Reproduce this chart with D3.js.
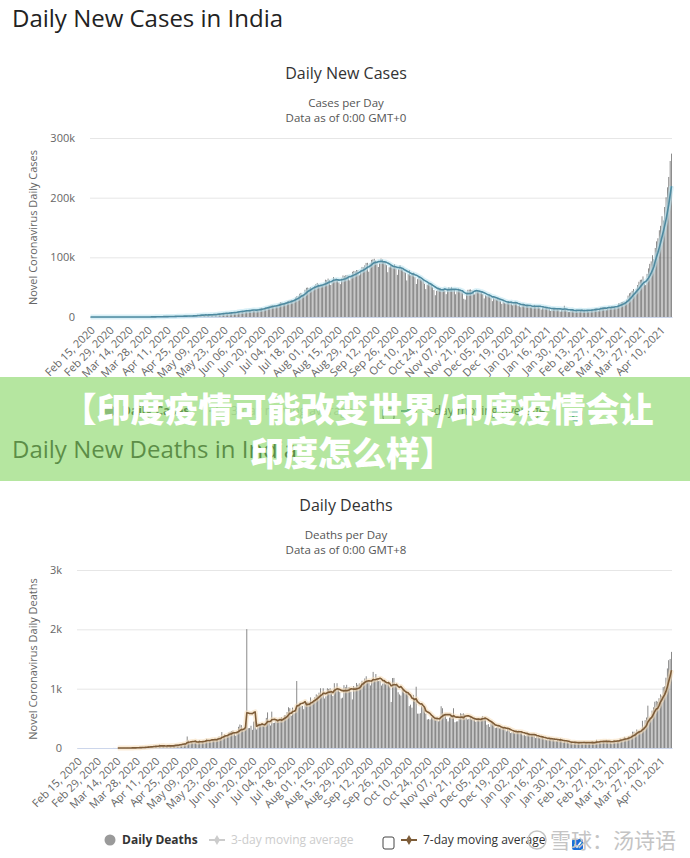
<!DOCTYPE html>
<html><head><meta charset="utf-8">
<script src="https://cdn.jsdelivr.net/npm/d3@7"></script>
<style>
html,body{margin:0;padding:0;background:#fff;}
svg{display:block;font-family:"Open Sans","DejaVu Sans",sans-serif;}
</style></head>
<body>
<script>
// ---------- DATA ----------
const tickLabels = ["Feb 15, 2020","Feb 29, 2020","Mar 14, 2020","Mar 28, 2020","Apr 11, 2020","Apr 25, 2020","May 09, 2020","May 23, 2020","Jun 06, 2020","Jun 20, 2020","Jul 04, 2020","Jul 18, 2020","Aug 01, 2020","Aug 15, 2020","Aug 29, 2020","Sep 12, 2020","Sep 26, 2020","Oct 10, 2020","Oct 24, 2020","Nov 07, 2020","Nov 21, 2020","Dec 05, 2020","Dec 19, 2020","Jan 02, 2021","Jan 16, 2021","Jan 30, 2021","Feb 13, 2021","Feb 27, 2021","Mar 13, 2021","Mar 27, 2021","Apr 10, 2021"];
const firstDay = "2020-02-15";
const lastDay = "2021-04-18";

// Daily new cases (Feb 15, 2020 - Apr 18, 2021)
const dailyCases = [
0,0,0,0,0,0,0,0,0,0,0,0,0,0,0,0,
2,1,22,2,1,3,5,9,15,8,10,10,20,3,14,15,28,28,58,77,67,102,86,63,80,146,93,153,227,146,
437,235,478,525,505,489,573,565,813,871,854,758,1243,1031,886,1061,922,1371,1580,1239,1537,1292,1667,1408,1835,1607,1568,1902,1705,1801,
2396,2564,2952,3656,2971,3602,3344,3339,3175,4311,3592,3562,3726,3991,3808,4794,5049,4630,6147,5611,5609,6088,6654,6767,6977,6535,6387,7466,7964,8380,8392,
8171,9304,9851,9887,9971,9987,9983,10956,11929,10882,11502,11929,12881,11458,10667,10974,12881,13586,14516,15413,14821,14933,15968,16922,17296,18552,19906,19459,18522,18653,
19148,20903,22771,24850,24248,22252,22752,24879,26506,27114,28637,28701,28498,29429,32695,34956,34884,38902,40425,37148,37724,45720,48916,49310,48661,49931,47703,48513,52123,55079,57118,
54735,52972,52050,52509,56282,62538,61537,64399,62064,53601,60963,66999,64553,65002,63490,57981,55079,64531,69652,68898,69878,70488,69239,61408,67151,75760,77266,76472,78761,78512,69921,
78357,83883,83341,86432,90632,90802,75809,89706,95735,96551,97570,94372,92071,83809,90123,97894,96424,93337,92605,86961,75083,83347,86508,86052,85362,88600,82170,70589,80472,86821,
81484,79476,75829,74442,61267,72049,78524,70496,73272,74383,66732,55342,63509,67708,63371,62212,61871,55722,46790,54044,56480,55839,53370,50129,45149,36469,43893,49881,48648,48268,46963,
46964,45231,38310,46253,50210,47638,50357,45674,45903,38073,44281,47905,44879,44684,41100,30548,29163,38617,45576,45882,46232,45209,44059,37975,44376,44489,43082,41322,41810,38772,
31118,36604,35551,36595,36652,32981,26567,32080,31521,29398,30006,30254,27071,22065,26382,24010,22890,25152,26624,25153,24337,19556,23950,24712,23068,18732,20021,16432,20549,21822,20036,
19079,18177,18177,16504,16375,18088,20346,18139,18222,18645,16311,12584,15968,16946,15590,15158,15144,13788,10064,13823,15223,14545,14256,14849,13203,9102,12689,11666,18855,13083,11629,
8635,8635,11039,12899,12408,11713,11831,9110,9110,11067,12923,9309,12143,11831,11649,9121,11610,12881,13193,13993,14264,14199,10584,13742,16738,16577,16488,16752,
12286,14989,17407,16838,18327,18711,18599,15388,17921,22854,23285,24882,25320,26291,24492,28903,35871,39726,40953,43846,46951,40715,47262,53476,59118,62258,62714,68020,56211,53480,72330,
81466,89129,93249,103558,96982,115736,126789,131968,145384,152879,168912,161736,184372,200739,217353,234692,261500,273810
];

// Daily deaths (null = not yet reported)
const dailyDeaths = [
null,null,null,null,null,null,null,null,null,null,null,null,null,null,null,null,null,null,null,null,null,null,null,
0,0,0,1,1,0,0,0,1,0,1,1,0,3,2,1,1,6,3,4,6,7,15,
3,20,12,16,10,29,25,24,31,33,37,35,27,58,28,38,33,26,31,36,53,36,41,32,51,58,62,62,70,68,
75,83,68,194,126,89,103,96,98,111,81,121,134,100,103,120,134,155,134,132,140,148,137,147,146,170,194,175,269,193,230,
204,221,259,273,286,294,261,206,266,357,396,386,311,325,380,2003,334,336,375,306,445,465,312,418,410,384,410,380,417,507,
600,434,379,613,421,425,467,482,487,475,519,500,551,553,606,687,671,543,681,587,648,1129,740,757,705,708,654,775,768,779,764,
853,771,803,857,904,886,933,1007,871,1007,834,871,1007,995,1007,941,876,1092,977,1092,983,944,836,848,1059,1023,1065,1021,1021,948,819,
1045,1026,1096,1066,1089,1065,1133,1115,1172,1209,1114,1114,1054,1136,1283,1132,1247,1174,1130,1133,1053,1085,1129,1085,1089,1124,1039,776,1179,1181,
1069,1095,940,903,884,986,971,926,964,918,706,730,680,895,837,1033,579,579,587,717,690,650,578,480,488,480,517,551,490,470,496,
449,490,704,670,577,559,490,448,512,585,547,670,435,447,449,501,585,576,584,562,511,480,488,524,485,492,496,443,482,501,
482,512,540,524,482,391,402,355,442,412,391,336,346,355,333,338,347,341,341,279,333,300,251,264,279,251,282,286,299,252,251,
214,224,201,264,234,222,226,222,214,167,201,185,175,191,181,162,145,137,162,164,151,163,138,127,123,137,123,163,127,94,107,
107,107,94,95,84,78,107,94,97,84,94,90,78,112,101,80,100,88,78,100,88,104,138,113,106,113,106,110,
98,138,108,113,100,77,133,133,131,131,130,161,131,158,188,172,154,197,199,212,275,275,257,312,291,291,271,459,354,469,514,
714,513,478,630,685,780,794,780,839,904,879,1027,1038,1185,1341,1480,1501,1620
];

const casesTicks = [0,100000,200000,300000];
const casesTickLabels = ["0","100k","200k","300k"];
const deathsTicks = [0,1000,2000,3000];
const deathsTickLabels = ["0","1k","2k","3k"];

// ---------- DRAW ----------
const svg = d3.select("body").append("svg").attr("width",690).attr("height",858);
svg.append("rect").attr("width",690).attr("height",858).attr("fill","#fff");

const days = d3.timeDay.range(d3.timeParse("%Y-%m-%d")(firstDay), d3.timeDay.offset(d3.timeParse("%Y-%m-%d")(lastDay),1));

function movingAvg(vals, k){
  return vals.map((v,i)=>{
    const w = vals.slice(Math.max(0,i-k+1), i+1);
    if (w.some(d=>d==null)) return null;
    return d3.mean(w);
  });
}

function chart(c){
  const g = svg.append("g");
  const n = c.values.length;
  const x = d3.scaleBand().domain(d3.range(n)).range([c.left, c.right]).paddingInner(0.45).paddingOuter(0.1);
  const y = d3.scaleLinear().domain([0, c.yMax]).range([c.bottom, c.top]);
  const bw = x.bandwidth();

  // page title
  g.append("text").attr("x",12).attr("y",c.pageTitleY).attr("font-size",24).attr("fill","#222")
    .attr("font-family","'Open Sans',sans-serif").text(c.pageTitle);
  // chart titles
  g.append("text").attr("x",346).attr("y",c.titleY).attr("text-anchor","middle").attr("font-size",16).attr("fill","#333").text(c.title);
  g.append("text").attr("x",346).attr("y",c.titleY+28).attr("text-anchor","middle").attr("font-size",11.5).attr("fill","#555").text(c.sub1);
  g.append("text").attr("x",346).attr("y",c.titleY+43).attr("text-anchor","middle").attr("font-size",11.5).attr("fill","#555").text(c.sub2);

  // y axis / gridlines
  const ya = g.append("g").attr("transform",`translate(${c.left},0)`)
    .call(d3.axisLeft(y).tickValues(c.ticks).tickSize(-(c.right-c.left)).tickPadding(15)
      .tickFormat((d,i)=>c.tickLabels[i]));
  ya.select(".domain").remove();
  ya.selectAll(".tick line").attr("stroke","#e6e6e6");
  ya.selectAll(".tick text").attr("fill","#666").attr("font-size",11).attr("font-family","'Open Sans',sans-serif");

  // y title
  g.append("text").attr("transform",`translate(${c.yTitleX},${(c.top+c.bottom)/2}) rotate(-90)`)
    .attr("text-anchor","middle").attr("font-size",11).attr("fill","#666").text(c.yTitle);

  // x axis
  const xa = g.append("g").attr("transform",`translate(0,${c.bottom})`)
    .call(d3.axisBottom(x).tickValues(tickLabels.map((_,i)=>i*14)).tickSize(0)
      .tickFormat((d,i)=>tickLabels[i]));
  xa.select(".domain").attr("stroke","#ccd6eb");
  xa.selectAll(".tick text").attr("y",0).attr("x",0).attr("dy","0")
    .attr("text-anchor","end").attr("transform","translate(5,14) rotate(-45)")
    .attr("font-size",11).attr("fill","#666").attr("font-family","'Open Sans',sans-serif");

  // bars
  g.append("g").selectAll("rect").data(c.values.map((v,i)=>({i,v}))).join("rect")
    .filter(d=>d.v!=null && d.v>0)
    .attr("x",d=>x(d.i)).attr("width",bw)
    .attr("y",d=>y(d.v)).attr("height",d=>c.bottom-y(d.v))
    .attr("fill","#666");

  // moving average
  const ma = movingAvg(c.values, 7).map((v,i)=>({i,v}));
  const line = d3.line().defined(d=>d.v!=null).x(d=>x(d.i)+bw/2).y(d=>y(d.v));
  g.append("path").attr("d",line(ma)).attr("fill","none").attr("stroke",c.halo).attr("stroke-width",5).attr("stroke-opacity",0.55).attr("stroke-linejoin","round");
  g.append("path").attr("d",line(ma)).attr("fill","none").attr("stroke",c.lineColor).attr("stroke-width",1.6).attr("stroke-linejoin","round");

  // legend
  const ly = c.legendY;
  const L = g.append("g").attr("font-family","'Open Sans',sans-serif");
  L.append("circle").attr("cx",110).attr("cy",ly).attr("r",5.5).attr("fill","#9a9a9a");
  L.append("text").attr("x",122).attr("y",ly+4).attr("font-size",12).attr("font-weight","bold").attr("fill","#333").text(c.legend1);
  L.append("line").attr("x1",209).attr("x2",225).attr("y1",ly).attr("y2",ly).attr("stroke","#ccc").attr("stroke-width",2);
  L.append("path").attr("d",d3.symbol(d3.symbolDiamond,30)()).attr("transform",`translate(217,${ly})`).attr("fill","#ccc");
  L.append("text").attr("x",231).attr("y",ly+4).attr("font-size",12).attr("fill","#ccc").text("3-day moving average");
  L.append("rect").attr("x",383).attr("y",ly-3).attr("width",11).attr("height",12).attr("rx",2).attr("fill","#fff").attr("stroke","#444");
  L.append("line").attr("x1",401).attr("x2",417).attr("y1",ly).attr("y2",ly).attr("stroke",c.lineColor).attr("stroke-width",2);
  L.append("path").attr("d",d3.symbol(d3.symbolDiamond,30)()).attr("transform",`translate(409,${ly})`).attr("fill",c.lineColor);
  L.append("text").attr("x",423).attr("y",ly+4).attr("font-size",12).attr("fill","#333").text("7-day moving average");
  L.append("rect").attr("x",572).attr("y",ly-1).attr("width",11).attr("height",11).attr("rx",2).attr("fill","#1a6fd8");
  L.append("path").attr("d",`M${574.5},${ly+4.5} l2.5,2.5 l4,-5`).attr("fill","none").attr("stroke","#fff").attr("stroke-width",1.6);
}

chart({pageTitle:"Daily New Cases in India", pageTitleY:27, title:"Daily New Cases", titleY:79,
  sub1:"Cases per Day", sub2:"Data as of 0:00 GMT+0",
  values:dailyCases, yMax:300000, ticks:casesTicks, tickLabels:casesTickLabels,
  left:90, right:672, top:138, bottom:317, yTitle:"Novel Coronavirus Daily Cases", yTitleX:37,
  lineColor:"#4e8aa0", halo:"#b9e3f0", legend1:"Daily Cases", legendY:411});

chart({pageTitle:"Daily New Deaths in India", pageTitleY:458, title:"Daily Deaths", titleY:511,
  sub1:"Deaths per Day", sub2:"Data as of 0:00 GMT+8",
  values:dailyDeaths, yMax:3000, ticks:deathsTicks, tickLabels:deathsTickLabels,
  left:77, right:672, top:570, bottom:748, yTitle:"Novel Coronavirus Daily Deaths", yTitleX:37,
  lineColor:"#7d5c38", halo:"#f6dcb8", legend1:"Daily Deaths", legendY:840});

// watermark
const wm = svg.append("g").attr("fill","#c4c4c4");
wm.append("circle").attr("cx",537).attr("cy",840).attr("r",9).attr("fill","none").attr("stroke","#c4c4c4").attr("stroke-width",1.5);
wm.append("text").attr("x",550).attr("y",848).attr("font-size",21).attr("font-family","'Noto Sans CJK SC',sans-serif").text("雪球：汤诗语");

// banner overlay
svg.append("rect").attr("x",0).attr("y",377).attr("width",690).attr("height",104).attr("fill","rgba(132,213,97,0.6)");
const bt = svg.append("g").attr("font-family","'Noto Sans CJK SC',sans-serif").attr("font-weight",900).attr("font-size",34).attr("fill","#fff").attr("text-anchor","middle");
bt.append("text").attr("x",358).attr("y",422).text("【印度疫情可能改变世界/印度疫情会让");
bt.append("text").attr("x",352).attr("y",466).text("印度怎么样】");
</script>
</body></html>
